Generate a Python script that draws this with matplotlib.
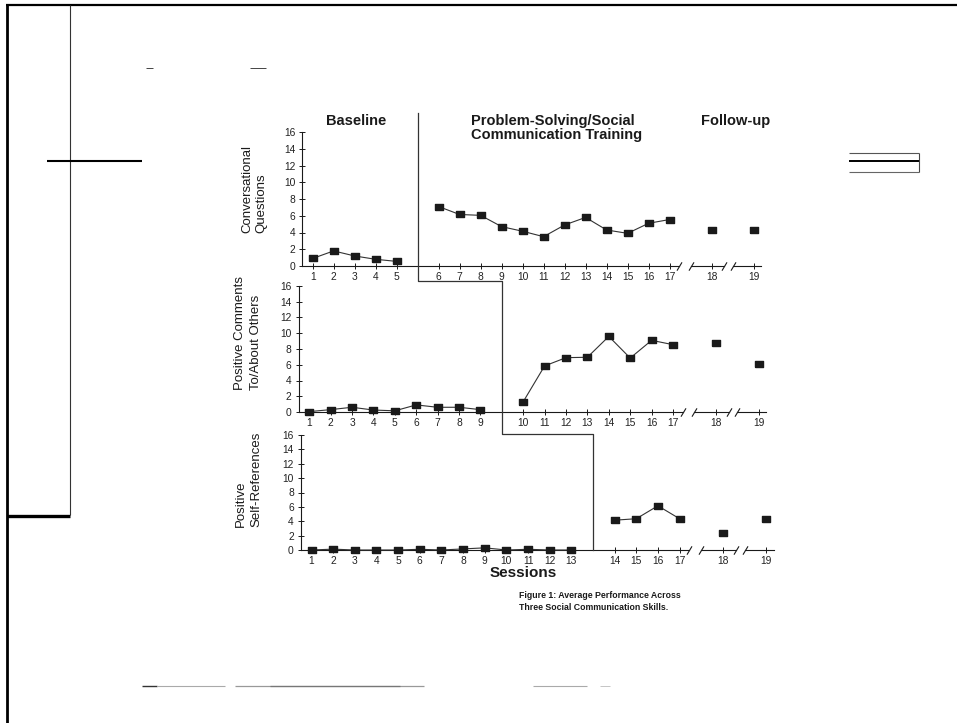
import matplotlib
matplotlib.use("Agg")
import matplotlib.pyplot as plt
from matplotlib.lines import Line2D
from matplotlib import font_manager

# data (mean frequency per session)
sessions = list(range(1, 20))
conv_questions = [0.9, 1.8, 1.2, 0.8, 0.55, 7.1, 6.15, 6.05, 4.7, 4.15, 3.5, 4.9, 5.8, 4.3, 3.9, 5.1, 5.55, 4.25, 4.25]
pos_comments = [0.05, 0.3, 0.6, 0.25, 0.15, 0.9, 0.6, 0.6, 0.3, 1.3, 5.85, 6.9, 6.95, 9.6, 6.85, 9.1, 8.55, 8.8, 6.05]
self_refs = [0.0, 0.12, 0.0, 0.0, 0.0, 0.1, 0.0, 0.15, 0.3, 0.0, 0.1, 0.0, 0.0, 4.15, 4.35, 6.15, 4.35, 2.4, 4.25]
baseline_len = [5, 9, 13]
last_training = 17
panel_labels = [("Conversational", "Questions"),
                ("Positive Comments", "To/About Others"),
                ("Positive", "Self-References")]
phase_names = ["Baseline", "Problem-Solving/Social\nCommunication Training", "Follow-up"]
y_ticks = list(range(0, 17, 2))
caption = ["Figure 1: Average Performance Across", "Three Social Communication Skills."]

W, H = 957, 723
fig = plt.figure(figsize=(W / 100, H / 100), dpi=100)
fig.patch.set_facecolor("white")

available = {f.name for f in font_manager.fontManager.ttflist}
if "Liberation Sans Narrow" in available:
    narrow, narrow_size = "Liberation Sans Narrow", 11
else:
    narrow, narrow_size = "Liberation Sans", 9.5
sans = "Liberation Sans"
ink = "#1a1a1a"


def fx(x):
    return x / W


def fy(y):
    return 1 - y / H


def pline(xs, ys, lw=1.0, color="black"):
    fig.add_artist(Line2D([fx(x) for x in xs], [fy(y) for y in ys], lw=lw, color=color,
                          solid_capstyle="butt"))


def positions(n_base):
    # gap of one slot after baseline, and after training / between follow-ups
    out = []
    for s in sessions:
        if s <= n_base:
            out.append(s)
        elif s <= last_training:
            out.append(s + 1)
        else:
            out.append(last_training + 1 + 2 * (s - last_training))
    return out


# pixel layout of the three panels: left of y axis, session spacing, top, bottom
layout = [(302.1, 21.0, 132, 266),
          (298.5, 21.4, 286, 412),
          (300.7, 21.65, 435, 550)]
xlim = (0.5, 22.35)
rect_marker = [(-1, -0.78), (1, -0.78), (1, 0.78), (-1, 0.78), (-1, -0.78)]
series = [conv_questions, pos_comments, self_refs]
label_px = [((247, 233), (261, 233)), ((240, 390), (256, 390)), ((241, 527), (256, 527))]

axes = []
for i, (vals, nb) in enumerate(zip(series, baseline_len)):
    left, step, top, bottom = layout[i]
    width = (xlim[1] - xlim[0]) * step
    ax = fig.add_axes([fx(left), fy(bottom), width / W, (bottom - top) / H])
    axes.append(ax)
    pos = positions(nb)

    groups = [range(0, nb), range(nb, last_training), [last_training], [last_training + 1]]
    for g in groups:
        g = list(g)
        ax.plot([pos[k] for k in g], [vals[k] for k in g], color="#333333", lw=0.8,
                marker=rect_marker, ms=5.3, mfc=ink, mec=ink, clip_on=False, zorder=3)

    # x axis with break marks before follow-up sessions
    brk = [18.45, 19.0, 20.6, 21.0]
    for a, b in [(xlim[0], brk[0]), (brk[1], brk[2]), (brk[3], xlim[1])]:
        ax.plot([a, b], [0, 0], color=ink, lw=0.8, clip_on=False, zorder=2)
    ax.plot(brk, [0] * len(brk), ls="none", marker=[(-0.6, -1), (0.6, 1)], ms=6,
            mew=0.8, color=ink, clip_on=False)

    ax.set_xlim(*xlim)
    ax.set_ylim(0, 16)
    ax.set_xticks(pos)
    ax.set_xticklabels([str(s) for s in sessions])
    ax.set_yticks(y_ticks)
    for side in ["top", "right", "bottom"]:
        ax.spines[side].set_visible(False)
    ax.spines["left"].set_linewidth(0.8)
    ax.spines["left"].set_color(ink)
    ax.tick_params(axis="both", direction="inout", length=5, width=0.7, color=ink,
                   labelsize=7.4, labelcolor="#222222")
    ax.tick_params(axis="x", pad=1.5)
    ax.tick_params(axis="y", pad=2.5)
    for t in ax.get_xticklabels() + ax.get_yticklabels():
        t.set_fontfamily(sans)
    ax.patch.set_alpha(0)

    for (tx, ty), txt in zip(label_px[i], panel_labels[i]):
        fig.text(fx(tx), fy(ty), txt, rotation=90, rotation_mode="anchor", ha="left",
                 va="center", fontsize=narrow_size, family=narrow, color=ink)

# stepped phase-change line, derived from the baseline lengths
inv = fig.transFigure.inverted()
pts = []
tops = [1.14, 1.04, 1.005]
for i, nb in enumerate(baseline_len):
    ax = axes[i]
    xd = ax.transData.transform((nb + 1, 0))[0]
    y_hi = ax.transAxes.transform((0, tops[i]))[1]
    if i == 0:
        pts.append((xd, y_hi))
    else:
        pts.append((pts[-1][0], y_hi))
        pts.append((xd, y_hi))
y_end = axes[-1].transAxes.transform((0, 0))[1]
pts.append((pts[-1][0], y_end))
fpts = inv.transform(pts)
fig.add_artist(Line2D(fpts[:, 0], fpts[:, 1], lw=0.9, color="#333333"))

# phase headings
fig.text(fx(356), fy(121), phase_names[0], ha="center", va="center", fontsize=10.5,
         fontweight="bold", family=sans, color=ink)
fig.text(fx(471), fy(128), phase_names[1], ha="left", va="center", fontsize=10.5,
         fontweight="bold", family=sans, color=ink, linespacing=1.0)
fig.text(fx(701), fy(121), phase_names[2], ha="left", va="center", fontsize=10.5,
         fontweight="bold", family=sans, color=ink)

fig.text(fx(523), fy(573), "Sessions", ha="center", va="center", fontsize=11,
         fontweight="bold", family=sans, color=ink)
fig.text(fx(519), fy(595), caption[0], ha="left", va="center", fontsize=6.3,
         fontweight="bold", family=sans, color=ink)
fig.text(fx(519), fy(607), caption[1], ha="left", va="center", fontsize=6.3,
         fontweight="bold", family=sans, color=ink)

# scan page edges and stray marks
pline([6, 957], [5, 5], lw=1.6)
pline([7, 7], [5, 723], lw=2.0)
pline([70, 70], [5, 515], lw=0.8, color="#333333")
pline([47, 142], [161, 161], lw=1.5)
pline([7, 70], [516, 516], lw=2.4)
pline([146, 153], [68, 68], lw=0.7, color="#444444")
pline([250, 266], [68, 68], lw=0.7, color="#444444")
pline([849, 919], [153, 153], lw=0.8, color="#555555")
pline([849, 919], [161, 161], lw=1.4)
pline([849, 919], [172, 172], lw=0.8, color="#666666")
pline([919, 919], [153, 172], lw=0.8, color="#444444")
pline([142, 157], [686, 686], lw=1.0, color="#333333")
pline([157, 225], [686, 686], lw=0.8, color="#aaaaaa")
pline([235, 424], [686, 686], lw=0.9, color="#999999")
pline([270, 400], [686, 686], lw=0.9, color="#777777")
pline([533, 587], [686, 686], lw=0.8, color="#aaaaaa")
pline([600, 610], [686, 686], lw=0.6, color="#bbbbbb")

fig.savefig("out.png", dpi=100, facecolor="white")
